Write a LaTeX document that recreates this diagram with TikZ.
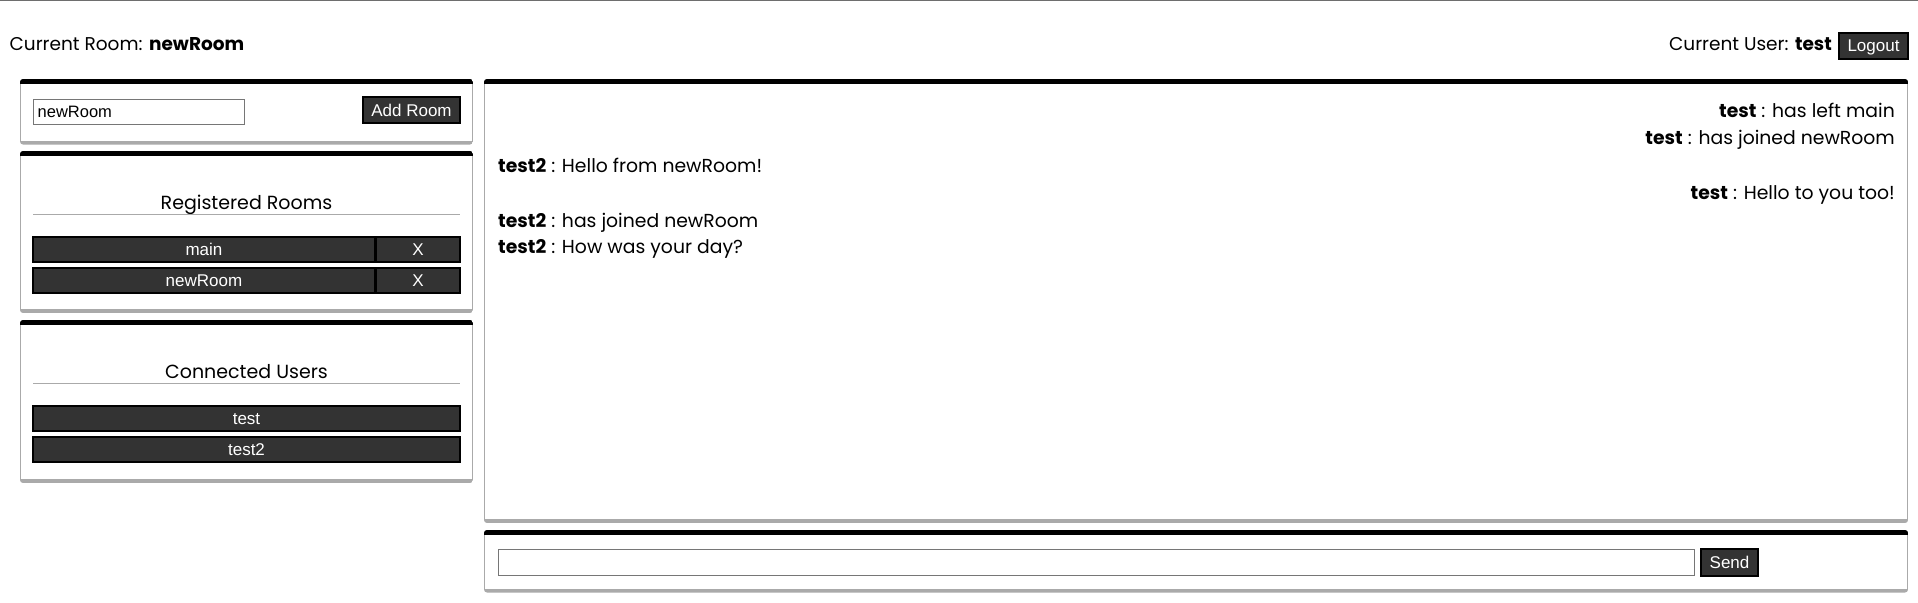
\documentclass[tikz,border=0pt]{standalone}
\usepackage{fontspec}
\setmainfont{Poppins}
\newfontfamily\btnfont{Liberation Sans}
\definecolor{btngray}{HTML}{333333}
\definecolor{sidegray}{HTML}{AAAAAA}
\definecolor{inputgray}{HTML}{767676}
\definecolor{topline}{HTML}{6E6E6E}
\newcommand\uipanel[4]{%
  \begin{scope}
    \clip[rounded corners=3pt] (#1,#2) rectangle (#3,#4);
    \fill[sidegray] (#1,#2) rectangle (#3,#4);
    \fill[black] (#1,#2) rectangle (#3,#2+5);
    \fill[white] (#1+1,#2+5) rectangle (#3-1,#4-4);
  \end{scope}}
\tikzset{
  uitext/.style={inner sep=0pt, font=\fontsize{18.5}{22}\selectfont, text=black},
  chattext/.style={inner sep=0pt, font=\fontsize{18.8}{22}\selectfont, text=black},
  headtext/.style={inner sep=0pt, font=\fontsize{19}{22}\selectfont, text=black},
  btn/.style={fill=btngray, draw=black, line width=1.2pt},
  btntext/.style={inner sep=0pt, anchor=base, text=white, font=\btnfont\fontsize{17}{20}\selectfont},
  inbox/.style={fill=white, draw=inputgray, line width=0.9pt},
  rule/.style={draw=sidegray, line width=1pt}
}
\begin{document}
\begin{tikzpicture}[x=1pt,y=-1pt]
\useasboundingbox (0,0) rectangle (1918,602);
\fill[white] (0,0) rectangle (1918,602);
\draw[topline, line width=1.5pt] (0,0.75) -- (1918,0.75);

% header
\node[uitext, anchor=base west] (room) at (9.5,51) {Current Room: \textbf{newRoom}};
\node[uitext, anchor=base east] (user) at (1832,51) {Current User: \textbf{test}};
\draw[btn] (1839,33) rectangle (1908,59);
\node[btntext] (logout) at (1873.5,52) {Logout};

% panels
\uipanel{20}{79}{473}{144.5}
\uipanel{20}{151}{473}{313}
\uipanel{20}{320}{473}{483}
\uipanel{484}{79}{1908}{523}
\uipanel{484}{530}{1908}{592.5}

% add room panel
\draw[inbox] (33,99) rectangle (244,124);
\node[inner sep=0pt, anchor=base west, font=\btnfont\fontsize{16.5}{19}\selectfont] (roomin) at (37.5,117) {newRoom};
\draw[btn] (363,97) rectangle (460,123);
\node[btntext] (addroom) at (411.5,116) {Add Room};

% registered rooms
\node[headtext, anchor=base] (reg) at (246.5,209) {Registered Rooms};
\draw[rule] (33,214) -- (460,214);
\draw[btn] (33,237) rectangle (375,262);
\node[btntext] (bmain) at (204,255.5) {main};
\draw[btn] (376,237) rectangle (460,262);
\node[btntext] (xmain) at (418,255.5) {X};
\draw[btn] (33,268) rectangle (375,293);
\node[btntext] (bnew) at (204,286.5) {newRoom};
\draw[btn] (376,268) rectangle (460,293);
\node[btntext] (xnew) at (418,286.5) {X};

% connected users
\node[headtext, anchor=base] (conn) at (246.5,378) {Connected Users};
\draw[rule] (33,383) -- (460,383);
\draw[btn] (33,406) rectangle (460,431);
\node[btntext] (utest) at (246.5,424.5) {test};
\draw[btn] (33,437) rectangle (460,462);
\node[btntext] (utest2) at (246.5,455.5) {test2};

% chat
\node[chattext, anchor=base east] (m1) at (1895,117) {\textbf{test} : has left main};
\node[chattext, anchor=base east] (m2) at (1895,144) {\textbf{test} : has joined newRoom};
\node[chattext, anchor=base west] (m3) at (498,172) {\textbf{test2} : Hello from newRoom!};
\node[chattext, anchor=base east] (m4) at (1895,199) {\textbf{test} : Hello to you too!};
\node[chattext, anchor=base west] (m5) at (498,227) {\textbf{test2} : has joined newRoom};
\node[chattext, anchor=base west] (m6) at (498,253) {\textbf{test2} : How was your day?};

% send
\draw[inbox] (498,549) rectangle (1694,575);
\draw[btn] (1701,549) rectangle (1758,576);
\node[btntext] (send) at (1729.5,568.5) {Send};
\end{tikzpicture}
\end{document}
